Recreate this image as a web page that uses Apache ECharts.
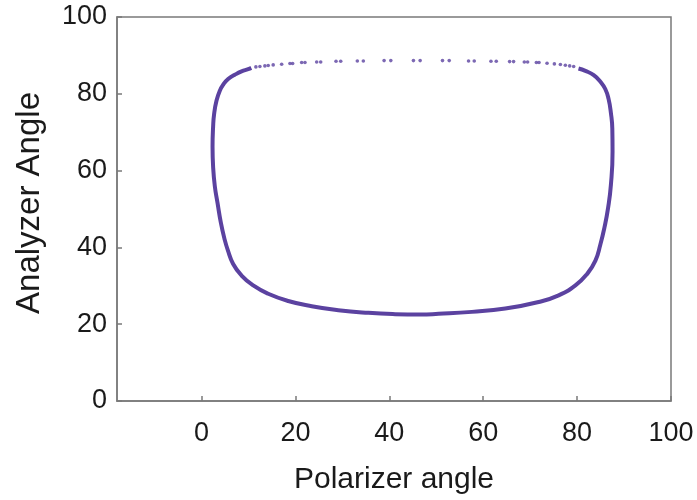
<!DOCTYPE html>
<html>
<head>
<meta charset="utf-8">
<title>Polarizer / Analyzer angle</title>
<script src="https://cdn.jsdelivr.net/npm/echarts@6/dist/echarts.min.js"></script>
<style>
  html, body { margin: 0; padding: 0; background: #ffffff; }
  #chart { width: 697px; height: 500px; }
</style>
</head>
<body>
<div id="chart"></div>
<script>
// Continuous part of the extinction contour: [polarizer angle, analyzer angle]
const contourPolarizer = [
  10.6, 9.94, 8.53, 7.10, 5.67, 4.61, 3.90, 3.20, 2.69, 2.47, 2.35, 2.47, 2.84, 3.41,
  4.12, 4.93, 5.60, 6.74, 8.53, 11.01, 14.21, 18.47, 23.47, 29.14, 35.54, 41.24,
  46.57, 50.48, 57.60, 64.70, 71.81, 76.07, 79.64, 82.13, 83.90, 84.97, 85.82,
  86.60, 87.20, 87.55, 87.50, 87.20, 86.70, 86.00, 84.97, 83.54, 81.77, 80.30
];
const contourAnalyzer = [
  86.75, 86.41, 85.83, 84.95, 83.85, 82.36, 80.81, 78.23, 74.80, 71.37, 66.21, 61.05, 55.89, 51.59,
  46.43, 42.04, 39.30, 35.67, 32.68, 30.10, 27.93, 26.05, 24.68, 23.65, 22.96, 22.62,
  22.52, 22.70, 23.21, 24.07, 25.79, 27.52, 30.10, 33.09, 36.55, 40.83, 45.14,
  50.30, 56.31, 65.00, 70.93, 75.00, 78.67, 81.25, 83.13, 84.86, 85.97, 86.60
];

// Sparsely sampled upper branch (individual points)
const upperPolarizer = [
  11.58, 12.44, 13.50, 14.21, 15.27, 17.07, 18.84, 19.41, 21.33, 22.04,
  24.53, 25.39, 28.65, 29.65, 33.19, 34.47, 38.89, 40.32, 45.14, 46.57, 51.33,
  52.76, 56.88, 58.09, 61.65, 62.78, 65.62, 66.47, 68.76, 69.46, 71.32, 71.89,
  73.60, 75.16, 76.44, 77.50, 78.42, 79.27
];
const upperAnalyzer = [
  87.00, 87.10, 87.26, 87.36, 87.52, 87.70, 87.88, 87.88, 88.14, 88.14,
  88.29, 88.29, 88.47, 88.47, 88.55, 88.55, 88.65, 88.65, 88.65, 88.65, 88.65,
  88.65, 88.55, 88.55, 88.47, 88.47, 88.39, 88.39, 88.29, 88.29, 88.14, 88.14,
  87.96, 87.78, 87.62, 87.44, 87.26, 87.10
];

const xTicks = [0, 20, 40, 60, 80, 100];
const yTicks = [0, 20, 40, 60, 80, 100];

const curveColor = '#5b42a0';
const frameColor = '#7a7a7a';
const textColor = '#1a1a1a';
const fontFamily = '"Liberation Sans", Arial, Helvetica, sans-serif';

const zip = (xs, ys) => xs.map((x, i) => [x, ys[i]]);

const chart = echarts.init(document.getElementById('chart'), null, { renderer: 'canvas' });

chart.setOption({
  animation: false,
  backgroundColor: '#ffffff',
  grid: {
    left: 117, right: 26, top: 17, bottom: 95,
    show: true, borderColor: frameColor, borderWidth: 1.5, backgroundColor: 'transparent'
  },
  xAxis: {
    type: 'value',
    min: -18, max: 100,
    name: 'Polarizer angle',
    nameLocation: 'middle',
    nameGap: 64,
    nameTextStyle: { fontFamily, fontSize: 30, color: textColor },
    axisLine: { show: true, onZero: false, lineStyle: { color: frameColor, width: 1.5 } },
    axisTick: { show: true, inside: true, length: 5, customValues: xTicks,
                lineStyle: { color: frameColor, width: 1.5 } },
    axisLabel: { customValues: xTicks, margin: 19, fontFamily, fontSize: 27, color: textColor },
    splitLine: { show: false }
  },
  yAxis: {
    type: 'value',
    min: 0, max: 100,
    name: 'Analyzer Angle',
    nameLocation: 'middle',
    nameGap: 71,
    nameTextStyle: { fontFamily, fontSize: 33, color: textColor, padding: [0, 0, 0, 12] },
    axisLine: { show: true, onZero: false, lineStyle: { color: frameColor, width: 1.5 } },
    axisTick: { show: true, inside: true, length: 5, customValues: yTicks,
                lineStyle: { color: frameColor, width: 1.5 } },
    axisLabel: { customValues: yTicks, margin: 10, fontFamily, fontSize: 27, color: textColor },
    splitLine: { show: false }
  },
  series: [
    {
      type: 'line',
      data: zip(contourPolarizer, contourAnalyzer),
      smooth: 0.5,
      showSymbol: false,
      lineStyle: { color: curveColor, width: 4 },
      z: 3
    },
    {
      type: 'scatter',
      data: zip(upperPolarizer, upperAnalyzer),
      symbol: 'circle',
      symbolSize: 3.6,
      itemStyle: { color: curveColor },
      z: 3
    }
  ]
});
</script>
</body>
</html>
